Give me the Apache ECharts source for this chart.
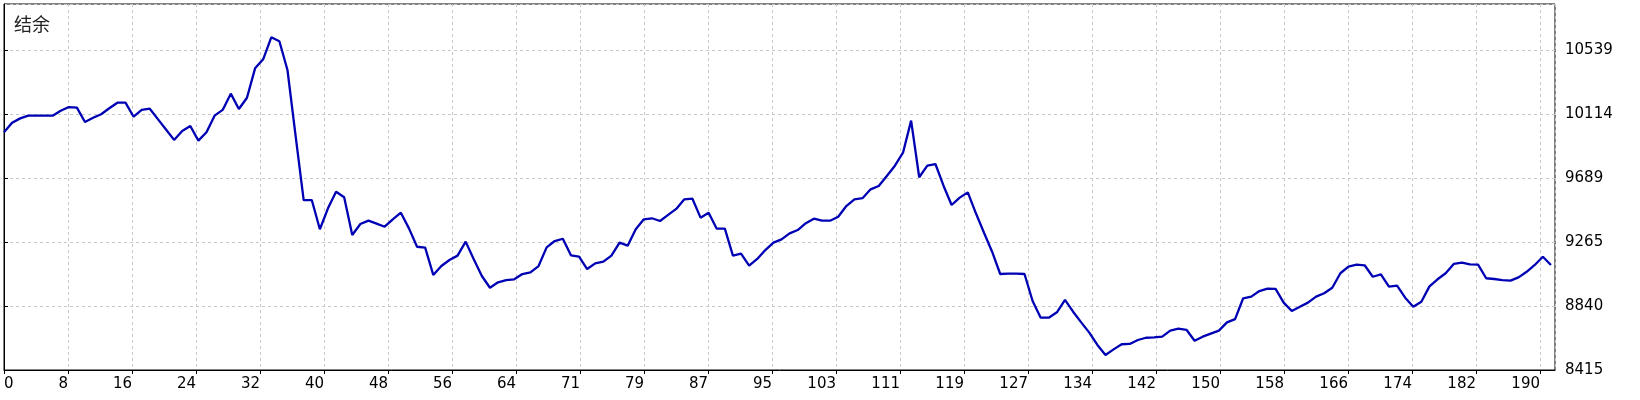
<!DOCTYPE html>
<html>
<head>
<meta charset="utf-8">
<script src="https://cdn.jsdelivr.net/npm/echarts@6/dist/echarts.min.js"></script>
<style>
  html, body { margin: 0; padding: 0; background: #fff; }
  #balance-chart { width: 1640px; height: 400px; }
</style>
</head>
<body>
<div id="balance-chart"></div>
<script>
// 结余曲线 每笔交易一个点
const balance = [
  9993, 10056, 10085, 10103, 10103, 10103, 10103, 10135, 10160, 10156,
  10061, 10089, 10112, 10152, 10189, 10189, 10096, 10141, 10149, 10080,
  10011, 9942, 10001, 10034, 9937, 9993, 10103, 10141, 10249, 10147,
  10222, 10417, 10477, 10623, 10597, 10406, 9970, 9543, 9543, 9349,
  9488, 9598, 9561, 9311, 9384, 9406, 9386, 9366, 9415, 9459,
  9355, 9233, 9227, 9046, 9105, 9145, 9174, 9267, 9150, 9039,
  8961, 8997, 9012, 9017, 9052, 9063, 9105, 9229, 9271, 9286,
  9176, 9167, 9085, 9123, 9134, 9174, 9260, 9240, 9349, 9415,
  9422, 9404, 9444, 9484, 9548, 9552, 9426, 9459, 9353, 9353,
  9174, 9187, 9107, 9152, 9211, 9260, 9282, 9322, 9344, 9389,
  9419, 9406, 9406, 9432, 9503, 9548, 9555, 9614, 9636, 9703,
  9771, 9857, 10070, 9694, 9771, 9782, 9638, 9510, 9559, 9594,
  9455, 9326, 9200, 9052, 9054, 9054, 9052, 8873, 8762, 8762,
  8798, 8880, 8802, 8731, 8663, 8581, 8515, 8552, 8586, 8588,
  8614, 8629, 8632, 8636, 8676, 8689, 8682, 8609, 8636, 8656,
  8676, 8731, 8753, 8891, 8902, 8939, 8955, 8953, 8862, 8807,
  8835, 8862, 8902, 8924, 8961, 9057, 9101, 9114, 9110, 9034,
  9050, 8968, 8975, 8895, 8835, 8868, 8970, 9017, 9057, 9119,
  9127, 9116, 9114, 9024, 9019, 9012, 9008, 9030, 9067, 9112,
  9167, 9112
]
const xTickLabels = [
  '0', '8', '16', '24', '32', '40', '48', '56', '64', '71', '79', '87', '95',
  '103', '111', '119', '127', '134', '142', '150', '158', '166', '174', '182', '190'
]
const yTickLabels = ['8415', '8840', '9265', '9689', '10114', '10539']

;(function () {
  balanceChart()
})()

function tickLabel(labels, min, step, value) {
  let k = Math.round((value - min) / step)
  if (Math.abs(min + k * step - value) > 1e-3) return ''
  return labels[k] || ''
}

function balanceChart() {
  let chart = echarts.init(document.getElementById('balance-chart'))
  let xStep = 7.902
  let yMin = 8415
  let yStep = 424.75
  let option = {
    animation: false,
    backgroundColor: '#fff',
    title: {
      text: '结余',
      left: 9,
      top: 10,
      textStyle: {
        fontFamily: 'Noto Sans CJK SC',
        fontSize: 18,
        fontWeight: 'normal',
        color: '#222',
      },
    },
    grid: {
      left: 4,
      top: 4,
      right: 85,
      bottom: 30,
      show: true,
      borderColor: '#000',
      borderWidth: 1,
    },
    xAxis: {
      type: 'value',
      min: 0,
      max: 191.5,
      interval: xStep,
      axisLine: { show: true, lineStyle: { color: '#000', width: 1 } },
      axisTick: { show: true, length: 4, lineStyle: { color: '#000' } },
      axisLabel: {
        margin: 7,
        align: 'right',
        alignMinLabel: 'left',
        showMaxLabel: false,
        fontFamily: 'DejaVu Sans',
        fontSize: 15,
        color: '#000',
        formatter: (v) => tickLabel(xTickLabels, 0, xStep, v),
      },
      splitLine: { //网格线
        show: true,
        lineStyle: { color: '#c8c8c8', type: [3, 3], width: 1 },
      },
    },
    yAxis: {
      type: 'value',
      position: 'right',
      min: yMin,
      max: 10844,
      interval: yStep,
      axisLine: { show: true, lineStyle: { color: '#000', width: 1 } },
      axisTick: { show: true, length: 4, lineStyle: { color: '#000' } },
      axisLabel: {
        margin: 10,
        showMaxLabel: false,
        fontFamily: 'DejaVu Sans',
        fontSize: 15,
        color: '#000',
        formatter: (v) => tickLabel(yTickLabels, yMin, yStep, v),
      },
      splitLine: {
        show: true,
        lineStyle: { color: '#c8c8c8', type: [3, 3], width: 1 },
      },
    },
    series: [
      {
        type: 'line',
        data: balance.map((v, i) => [i, v]),
        showSymbol: false,
        lineStyle: { color: '#0000b4', width: 2.3 },
        itemStyle: { color: '#0000b4' },
      },
    ],
  }
  chart.setOption(option)
}
</script>
</body>
</html>
